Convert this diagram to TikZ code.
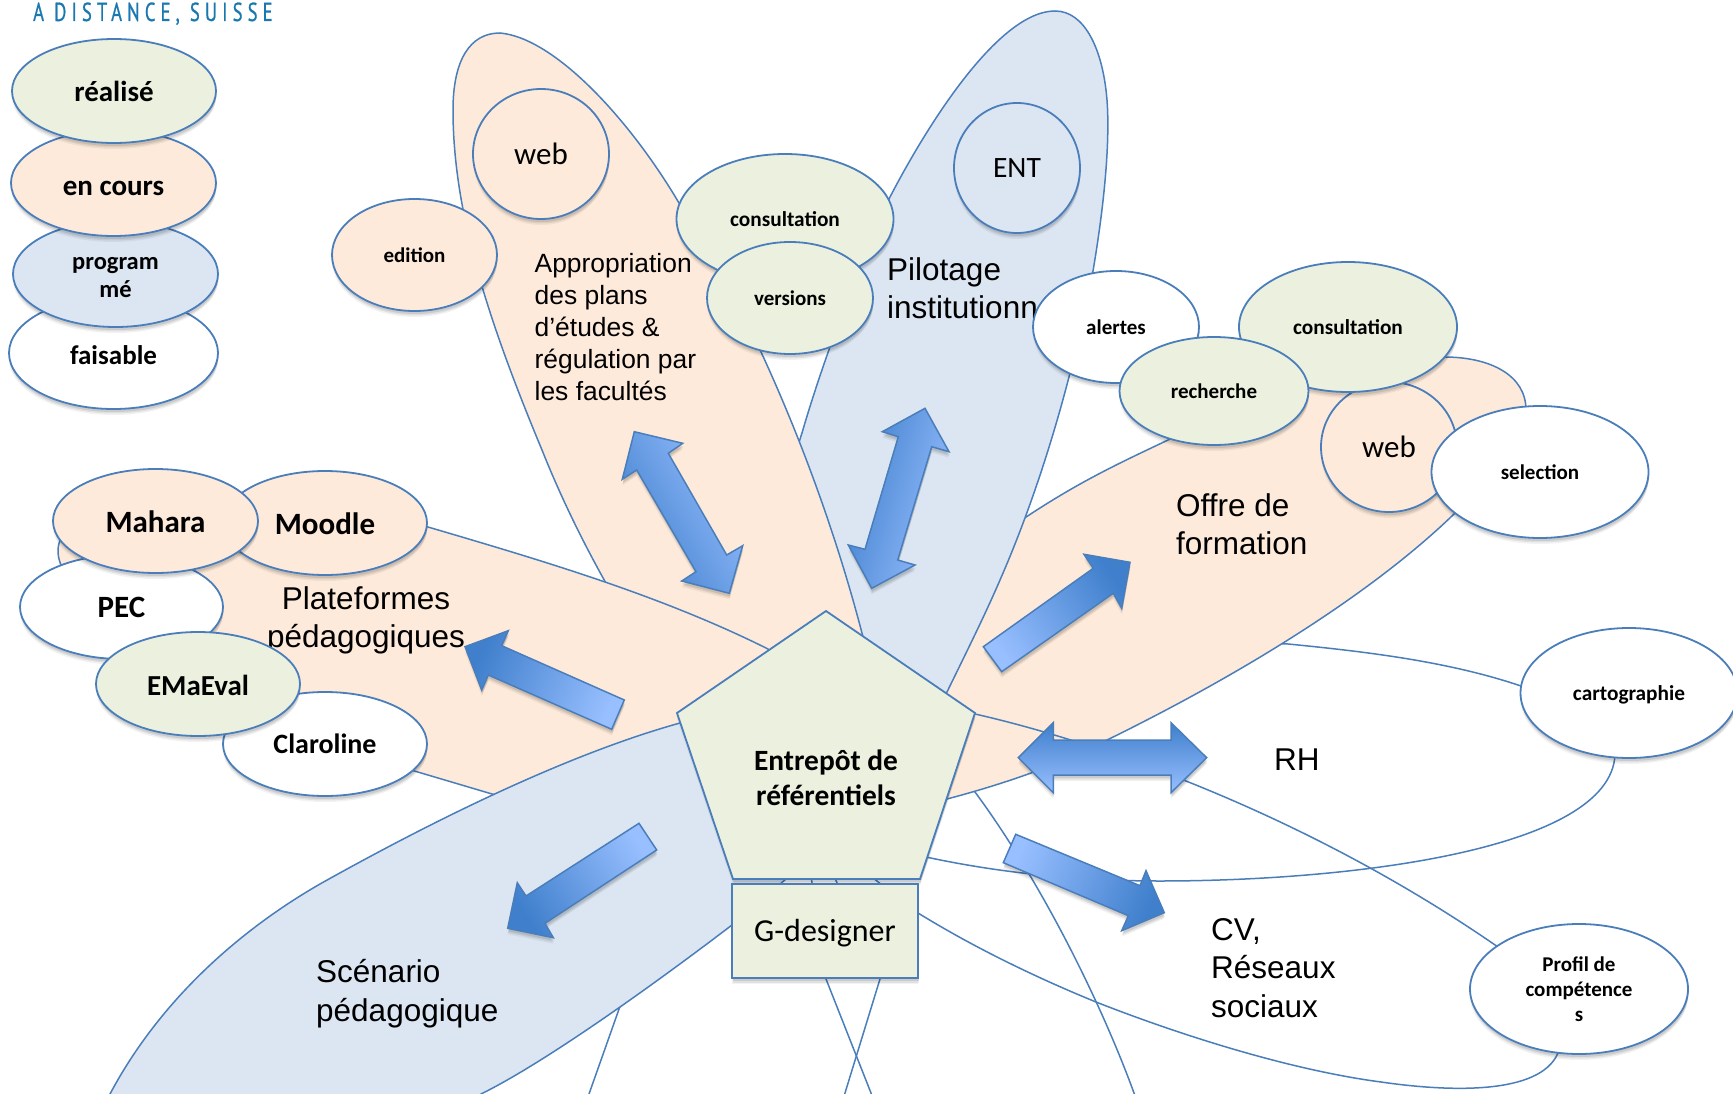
\documentclass[tikz,border=0pt]{standalone}
\usepackage{fontspec}
\setmainfont{Carlito}
\newfontfamily\arialf{Liberation Sans}
\newfontfamily\hdrf[LetterSpace=27,FakeBold=0.8]{PT Sans}
\usetikzlibrary{shapes.geometric,shadows}
\definecolor{edgec}{HTML}{4A7EBB}
\definecolor{orangef}{HTML}{FDEADA}
\definecolor{greenf}{HTML}{EBF1DE}
\definecolor{bluef}{HTML}{DCE6F2}
\definecolor{lightb}{HTML}{98BFFF}
\definecolor{darkb}{HTML}{3F7FCC}
\definecolor{hdrc}{HTML}{1A78B0}
\newcommand{\dn}[2]{\raisebox{-#1pt}[\height][\depth]{#2}}
\tikzset{
  softsh/.style={
    general shadow={shadow yshift=-6pt,fill=black,opacity=.05},
    general shadow={shadow yshift=-4.5pt,shadow xshift=.5pt,fill=black,opacity=.07},
    general shadow={shadow yshift=-3pt,shadow xshift=.5pt,fill=black,opacity=.09}},
  petal/.style={draw=edgec,line width=1.5pt},
  bub/.style n args={4}{ellipse,draw=edgec,line width=1.8pt,inner sep=0pt,fill=#1,
    minimum width=#2pt,minimum height=#3pt,softsh,font=\fontsize{#4}{#4}\selectfont\bfseries,align=center},
  plainbub/.style n args={4}{ellipse,draw=edgec,line width=1.8pt,inner sep=0pt,fill=#1,
    minimum width=#2pt,minimum height=#3pt,font=\fontsize{#4}{#4}\selectfont},
  bigarrow/.style={draw=edgec,line width=1.5pt,softsh,bottom color=lightb,top color=darkb,shading angle=#1},
  ltext/.style n args={2}{anchor=base west,inner sep=0pt,align=left,font=\arialf\fontsize{#1}{#2}\selectfont},
  ctext/.style n args={2}{anchor=base,inner sep=0pt,align=center,font=\arialf\fontsize{#1}{#2}\selectfont},
}
\begin{document}
\begin{tikzpicture}[x=1pt,y=-1pt]
\useasboundingbox (0,0) rectangle (1733,1094);
\clip (0,0) rectangle (1733,1094);
\fill[white] (0,0) rectangle (1733,1094);
% header
\node[anchor=base west,inner sep=0pt,xscale=.72,text=hdrc,font=\hdrf\fontsize{26}{26}\selectfont] (hdr) at (33,21) {A DISTANCE, SUISSE};
% unfilled petals beneath
\draw[petal] (926,857) .. controls (1000,873) and (1080,881) .. (1160,881) .. controls (1350,881) and (1610,850) .. (1615,755) -- (1625,700) -- (1521,686) .. controls (1450,662) and (1370,652) .. (1288,644) -- (1100,640) -- (900,760) -- cycle;
\draw[petal] (826,979) -- (871,1093) -- (900,1170) -- (1165,1170) -- (1134,1093) .. controls (1100,1000) and (1040,880) .. (975,792) -- (900,700) -- (800,800) -- cycle;
\draw[petal] (880,979) -- (845,1093) -- (840,1170) -- (580,1170) -- (589,1094) -- (624,995) -- (700,880) -- (800,800) -- cycle;
% Offre
\draw[petal,fill=orangef] (947,799) .. controls (1000,785) and (1060,765) .. (1105,741) .. controls (1240,675) and (1370,595) .. (1453,515) .. controls (1500,470) and (1526,440) .. (1526,410) .. controls (1526,375) and (1490,357) .. (1444,357) .. controls (1370,357) and (1280,385) .. (1168,440) .. controls (1120,463) and (1070,485) .. (1000,535) -- (950,620) -- (860,800) -- cycle;
% Pilotage
\draw[petal,fill=bluef] (1055,11) .. controls (1000,11) and (930,120) .. (890,197) .. controls (860,260) and (820,370) .. (802,433) -- (790,470) -- (860,760) -- (947,692) .. controls (965,655) and (985,615) .. (1000,580) .. controls (1035,500) and (1058,420) .. (1070,373) .. controls (1078,340) and (1088,300) .. (1093,271) .. controls (1105,200) and (1110,140) .. (1107,100) .. controls (1103,50) and (1085,11) .. (1055,11) -- cycle;
% Appropriation
\draw[petal,fill=orangef] (740,780) .. controls (660,680) and (590,570) .. (542,450) .. controls (490,325) and (453,215) .. (453,110) .. controls (453,60) and (470,33) .. (500,33) .. controls (555,38) and (630,120) .. (679,203) .. controls (745,300) and (820,470) .. (863,637) -- (870,660) -- cycle;
% Plateformes
\draw[petal,fill=orangef] (826,740) -- (768,649) .. controls (660,595) and (540,560) .. (428,527) .. controls (320,495) and (60,480) .. (58,550) .. controls (56,620) and (300,735) .. (411,770) -- (492,794) -- (700,850) -- cycle;
% Scenario
\draw[petal,fill=bluef] (680,723) .. controls (590,748) and (470,800) .. (320,884) .. controls (240,930) and (160,1000) .. (110,1094) -- (100,1200) -- (400,1200) -- (481,1094) .. controls (540,1065) and (640,995) .. (732,925) -- (820,850) -- (780,700) -- cycle;
% CV petal
\draw[petal] (975,714) .. controls (1090,740) and (1300,810) .. (1498,947) -- (1560,1000) -- (1558,1053) .. controls (1540,1095) and (1450,1092) .. (1381,1082) .. controls (1290,1070) and (1180,1035) .. (1096,1002) .. controls (1030,975) and (970,945) .. (918,913) -- (850,860) -- (850,760) -- cycle;
% labels of petals
\node[ltext={26.4}{32}] (appr) at (534.5,400) {Appropriation\\des plans\\d’études \&\\régulation par\\les facultés};
\node[ltext={31.5}{37.5}] (pilo) at (887,318) {Pilotage\\institutionn};
\node[ltext={31.5}{38}] (offre) at (1176,554) {Offre de\\formation};
\node[ltext={31.5}{38}] (rh) at (1274,770) {RH};
\node[ltext={31.5}{38.5}] (cv) at (1211,1017) {CV,\\Réseaux\\sociaux};
\node[ltext={31.5}{39}] (scen) at (316,1021) {Scénario\\pédagogique};
\node[ctext={31.5}{38}] (plat) at (366,647) {Plateformes\\pédagogiques};
% arrows
\draw[bigarrow=120] (634.3,431.7)--(682.7,443.3)--(668.3,453.3)--(726.7,555)--(742.7,545.7)--(729.3,593.3)--(681.7,581)--(696,571.7)--(636.7,470)--(622.3,479.3)--cycle;
\draw[bigarrow=73.6] (925,408.3)--(949,451.7)--(931.7,446.7)--(897.7,560)--(915,565)--(871.7,588.3)--(848.3,545)--(865,549.3)--(898.3,436.7)--(882.3,431.7)--cycle;
\draw[bigarrow=66] (465,646.7)--(508.3,630.7)--(501.7,645.7)--(624.3,700)--(611.7,729.3)--(488.3,675)--(481.7,690)--cycle;
\draw[bigarrow=123] (639,823.3)--(656.7,850)--(545,923.3)--(553.3,937.7)--(507.7,928.3)--(517.3,882.7)--(526,896)--cycle;
\draw[bigarrow=-55] (983.3,646.7)--(1001.7,671.7)--(1113.3,593.3)--(1121.7,608.3)--(1130,562.3)--(1084,554.3)--(1093.3,568.3)--cycle;
\draw[bigarrow=0] (1018.3,757.7)--(1053.3,722.7)--(1053.3,740)--(1171,740)--(1171,722.7)--(1206.7,757.7)--(1171,792.7)--(1171,775)--(1053.3,775)--(1053.3,792.7)--cycle;
\draw[bigarrow=-113] (1015.7,834.3)--(1003.3,862.7)--(1128.3,915.7)--(1121.7,930.7)--(1164.3,912.7)--(1146,870.7)--(1140,885.7)--cycle;
% legend
\node[bub={white}{209}{112}{27}] (faisable) at (113.5,353) {\dn{2}{faisable}};
\node[bub={bluef}{205}{106}{24.5}] (programme) at (115.5,274) {\dn{3.5}{program}\\[3pt]\dn{3.5}{mé}};
\node[bub={orangef}{205}{106}{29}] (encours) at (113.5,183) {\dn{5}{en cours}};
\node[bub={greenf}{204}{104}{29}] (realise) at (114,91) {réalisé};
% nodes left
\node[bub={white}{203}{104}{31}] (pec) at (121.5,607) {PEC};
\node[bub={orangef}{204}{104}{31}] (moodle) at (325,523) {\dn{1}{Moodle}};
\node[bub={white}{204}{104}{28}] (claroline) at (325,744) {Claroline};
\node[bub={orangef}{205}{104}{31}] (mahara) at (155.5,521) {\dn{1}{Mahara}};
\node[bub={greenf}{204}{104}{29}] (emaeval) at (198,684) {\dn{1}{EMaEval}};
% top
\node[bub={orangef}{165}{112}{21}] (edition) at (414.5,255) {edition};
\node[plainbub={orangef}{136}{130}{31},softsh] (web1) at (541,154) {web};
\node[bub={greenf}{217}{130}{21.3}] (consult1) at (785,219) {consultation};
\node[bub={greenf}{166}{112}{21}] (versions) at (790,298) {versions};
\node[plainbub={bluef}{126}{130}{29.5},softsh] (ent) at (1017,168) {ENT};
% right
\node[plainbub={orangef}{136}{130}{31},softsh] (web2) at (1389,447) {web};
\node[bub={white}{217}{132}{21}] (selection) at (1540,472) {selection};
\node[bub={white}{166}{112}{21}] (alertes) at (1116,327) {alertes};
\node[bub={greenf}{218}{130}{21.3}] (consult2) at (1348,327) {consultation};
\node[bub={greenf}{189}{108}{21}] (recherche) at (1214,391) {recherche};
\node[bub={white}{217}{130}{21.3}] (carto) at (1629,693) {\dn{2}{cartographie}};
\node[bub={white}{218}{130}{21}] (profil) at (1579,989) {Profil de\\[3.5pt]compétence\\[4pt]s};
% centre
\draw[petal,fill=greenf,line width=1.8pt,softsh] (826,611)--(975,713)--(920,879)--(733,879)--(677,713)--cycle;
\node[inner sep=0pt,align=center,font=\fontsize{29.4}{35}\selectfont\bfseries,anchor=center] (entrepot) at (826,778) {Entrepôt de\\référentiels};
\node[draw=edgec,line width=1.8pt,fill=greenf,softsh,minimum width=186pt,minimum height=94pt,inner sep=0pt,font=\fontsize{32}{32}\selectfont] (gdes) at (825,931) {\dn{2}{G-designer}};
\end{tikzpicture}
\end{document}
